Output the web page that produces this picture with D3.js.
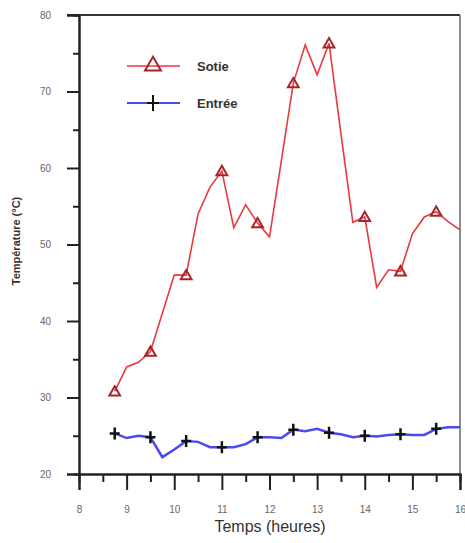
<!DOCTYPE html>
<html lang="fr">
<head>
    <meta charset="UTF-8">
    <title>Température</title>
    <style>
        body { margin: 0; background: #fff; }
        svg text { font-family: "Liberation Sans", Arial, sans-serif; }
    </style>
</head>
<body>
    <div id="container"></div>
    <script src="https://d3js.org/d3.v7.min.js"></script>
    <script>
        // Hours sampled every quarter hour
        var hours = [8.75, 9, 9.25, 9.5, 9.75, 10, 10.25, 10.5, 10.75, 11, 11.25, 11.5, 11.75, 12,
            12.25, 12.5, 12.75, 13, 13.25, 13.5, 13.75, 14, 14.25, 14.5, 14.75, 15, 15.25, 15.5, 15.75, 16];
        var sortie = [30.8, 34, 34.6, 36, 41, 46, 46, 54, 57.5, 59.6, 52.2, 55.2, 52.8, 51,
            61, 71.1, 76.1, 72.2, 76.3, 64.5, 52.9, 53.6, 44.4, 46.7, 46.5, 51.4, 53.6, 54.3, 53, 51.9];
        var entree = [25.3, 24.7, 25, 24.8, 22.2, 23.2, 24.3, 24.2, 23.5, 23.5, 23.5, 23.9, 24.8, 24.8,
            24.7, 25.8, 25.6, 25.9, 25.4, 25.2, 24.8, 25, 24.9, 25.1, 25.2, 25.1, 25.1, 25.9, 26.1, 26.1];
        var xTicks = [8, 9, 10, 11, 12, 13, 14, 15, 16];
        var yTicks = [20, 30, 40, 50, 60, 70, 80];
        // markers every third sample, starting at the first one
        var markerIdx = [0, 3, 6, 9, 12, 15, 18, 21, 24, 27];

        var width = 465, height = 543;
        var mLeft = 79, mRight = 460, mTop = 15, mBottom = 474;

        var svg = d3.select("#container").append("svg")
            .attr("width", width)
            .attr("height", height);

        var x = d3.scaleLinear().domain([8, 16]).range([mLeft, mRight]);
        var y = d3.scaleLinear().domain([20, 80]).range([mBottom, mTop]);

        // frame (top line darker, right side lighter like the scan)
        svg.append("line").attr("x1", mLeft - 12).attr("x2", mRight).attr("y1", mTop).attr("y2", mTop)
            .attr("stroke", "#333").attr("stroke-width", 2);
        svg.append("line").attr("x1", mRight).attr("x2", mRight).attr("y1", mTop).attr("y2", mBottom)
            .attr("stroke", "#666").attr("stroke-width", 1.5);

        // x axis, major + minor ticks
        var xAxis = svg.append("g").attr("transform", "translate(0," + mBottom + ")");
        xAxis.call(d3.axisBottom(x).tickValues(xTicks).tickSize(16).tickPadding(20).tickFormat(d3.format("d")));
        svg.append("g").attr("transform", "translate(0," + mBottom + ")")
            .call(d3.axisBottom(x).tickValues(d3.range(8.5, 16, 1)).tickSize(8).tickFormat(""));

        var yAxis = svg.append("g").attr("transform", "translate(" + mLeft + ",0)");
        yAxis.call(d3.axisLeft(y).tickValues(yTicks).tickSize(12).tickPadding(16).tickFormat(d3.format("d")));
        svg.append("g").attr("transform", "translate(" + mLeft + ",0)")
            .call(d3.axisLeft(y).tickValues(d3.range(25, 80, 10)).tickSize(6).tickFormat(""));

        svg.selectAll(".domain").attr("stroke", "#222").attr("stroke-width", 2);
        svg.selectAll(".tick line").attr("stroke", "#222").attr("stroke-width", 2);
        svg.selectAll(".tick text").attr("fill", "#666").style("font-size", "10px");
        xAxis.selectAll(".tick text").attr("dy", "0.3em");

        // axis titles
        svg.append("text")
            .attr("x", 270).attr("y", 532)
            .attr("text-anchor", "middle")
            .attr("fill", "#333")
            .style("font-size", "16px")
            .text("Temps (heures)");

        svg.append("text")
            .attr("transform", "translate(20,241) rotate(-90)")
            .attr("text-anchor", "middle")
            .attr("fill", "#333")
            .style("font-size", "11px")
            .style("font-weight", "bold")
            .text("Température (°C)");

        var line = d3.line()
            .x(function (d, i) { return x(hours[i]); })
            .y(function (d) { return y(d); });

        svg.append("path")
            .datum(entree)
            .attr("d", line)
            .attr("fill", "none")
            .attr("stroke", "#4a4af0")
            .attr("stroke-width", 2.5);

        svg.append("path")
            .datum(sortie)
            .attr("d", line)
            .attr("fill", "none")
            .attr("stroke", "#e8393f")
            .attr("stroke-width", 1.6);

        var tri = d3.symbol().type(d3.symbolTriangle).size(50);
        var cross = "M-5,0H5M0,-6V6";

        svg.selectAll(".tri")
            .data(markerIdx)
            .enter().append("path")
            .attr("class", "tri")
            .attr("transform", function (i) { return "translate(" + x(hours[i]) + "," + (y(sortie[i]) + 1) + ")"; })
            .attr("d", tri)
            .attr("fill", "none")
            .attr("stroke", "#a8242a")
            .attr("stroke-width", 2);

        svg.selectAll(".cross")
            .data(markerIdx)
            .enter().append("path")
            .attr("class", "cross")
            .attr("transform", function (i) { return "translate(" + x(hours[i]) + "," + y(entree[i]) + ")"; })
            .attr("d", cross)
            .attr("stroke", "#111")
            .attr("stroke-width", 2.5);

        // legend
        var legend = svg.append("g");
        legend.append("line").attr("x1", 127).attr("x2", 180).attr("y1", 66).attr("y2", 66)
            .attr("stroke", "#e8393f").attr("stroke-width", 1.6);
        legend.append("path").attr("transform", "translate(153,66)").attr("d", d3.symbol().type(d3.symbolTriangle).size(110))
            .attr("fill", "none").attr("stroke", "#a8242a").attr("stroke-width", 2);
        legend.append("text").attr("x", 197).attr("y", 71).attr("fill", "#333")
            .style("font-size", "13px").style("font-weight", "bold").text("Sotie");

        legend.append("line").attr("x1", 127).attr("x2", 180).attr("y1", 103).attr("y2", 103)
            .attr("stroke", "#4a4af0").attr("stroke-width", 2);
        legend.append("path").attr("transform", "translate(153,103)").attr("d", "M-6,0H6M0,-8V8")
            .attr("stroke", "#111").attr("stroke-width", 2);
        legend.append("text").attr("x", 197).attr("y", 108).attr("fill", "#333")
            .style("font-size", "13px").style("font-weight", "bold").text("Entrée");
    </script>
</body>
</html>
